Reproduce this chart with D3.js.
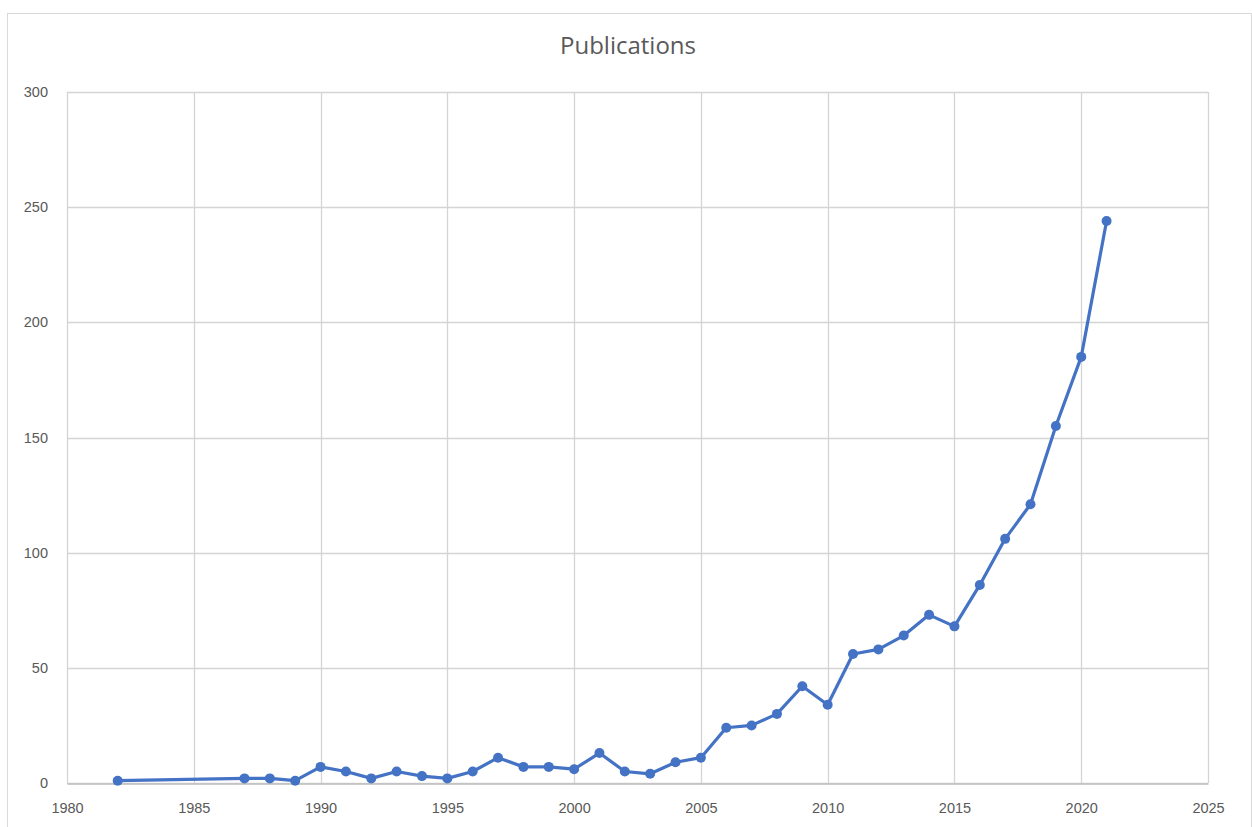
<!DOCTYPE html>
<html>
<head>
<meta charset="utf-8">
<script src="https://cdn.jsdelivr.net/npm/d3@7"></script>
<style>
  html, body { margin: 0; padding: 0; background: #fff; }
  svg { display: block; font-family: "Open Sans", "Liberation Sans", sans-serif; }
</style>
</head>
<body>
<svg id="chart"></svg>
<script>
const years = [1982, 1987, 1988, 1989, 1990, 1991, 1992, 1993, 1994, 1995, 1996, 1997, 1998, 1999,
  2000, 2001, 2002, 2003, 2004, 2005, 2006, 2007, 2008, 2009, 2010, 2011, 2012, 2013, 2014, 2015,
  2016, 2017, 2018, 2019, 2020, 2021];
const publications = [1, 2, 2, 1, 7, 5, 2, 5, 3, 2, 5, 11, 7, 7,
  6, 13, 5, 4, 9, 11, 24, 25, 30, 42, 34, 56, 58, 64, 73, 68,
  86, 106, 121, 155, 185, 244];
const xTicks = [1980, 1985, 1990, 1995, 2000, 2005, 2010, 2015, 2020, 2025];
const yTicks = [0, 50, 100, 150, 200, 250, 300];

const width = 1252, height = 827;
const margin = { top: 92, right: 44, bottom: 44, left: 67 };

const svg = d3.select('#chart')
  .attr('width', width)
  .attr('height', height);

// chart frame
svg.append('rect')
  .attr('x', 7.5).attr('y', 13.5)
  .attr('width', width - 8).attr('height', height)
  .attr('fill', '#fff')
  .attr('stroke', '#d9d9d9');

const data = years.map((y, i) => ({ year: y, value: publications[i] }));

const x = d3.scaleLinear()
  .domain([1980, 2025])
  .range([margin.left, width - margin.right]);

const y = d3.scaleLinear()
  .domain([0, 300])
  .range([height - margin.bottom, margin.top]);

// gridlines
svg.append('g')
  .attr('stroke', '#d4d4d4')
  .attr('stroke-width', 1.3)
  .selectAll('line.h')
  .data(yTicks)
  .join('line')
  .attr('x1', margin.left).attr('x2', width - margin.right)
  .attr('y1', d => Math.round(y(d)) + 0.5).attr('y2', d => Math.round(y(d)) + 0.5);

svg.append('g')
  .attr('stroke', '#d4d4d4')
  .attr('stroke-width', 1.3)
  .selectAll('line.v')
  .data(xTicks)
  .join('line')
  .attr('x1', d => Math.round(x(d)) + 0.5).attr('x2', d => Math.round(x(d)) + 0.5)
  .attr('y1', margin.top).attr('y2', height - margin.bottom);

// x axis
const xAxis = g => g
  .attr('transform', `translate(0,${Math.round(y(0)) + 0.5})`)
  .call(d3.axisBottom(x).tickValues(xTicks).tickFormat(d3.format('d')).tickSize(0).tickPadding(19))
  .call(g => g.select('.domain').attr('stroke', '#bfbfbf').attr('stroke-width', 1.3))
  .call(g => g.selectAll('text').attr('fill', '#595959').attr('font-size', 14.5));

svg.append('g').call(xAxis);

// y axis
const yAxis = g => g
  .attr('transform', `translate(${margin.left - 19},0)`)
  .call(d3.axisLeft(y).tickValues(yTicks).tickSize(0).tickPadding(0))
  .call(g => g.select('.domain').remove())
  .call(g => g.selectAll('text').attr('fill', '#595959').attr('font-size', 14.5));

svg.append('g').call(yAxis);

// title
svg.append('text')
  .attr('x', 628)
  .attr('y', 54)
  .attr('text-anchor', 'middle')
  .attr('fill', '#595959')
  .attr('font-size', 24)
  .text('Publications');

// series
svg.append('path')
  .datum(data)
  .attr('fill', 'none')
  .attr('stroke', '#4472c4')
  .attr('stroke-width', 3.2)
  .attr('stroke-linejoin', 'round')
  .attr('d', d3.line()
    .x(d => x(d.year))
    .y(d => y(d.value)));

svg.append('g')
  .attr('fill', '#4472c4')
  .selectAll('circle')
  .data(data)
  .join('circle')
  .attr('cx', d => x(d.year))
  .attr('cy', d => y(d.value))
  .attr('r', 5);
</script>
</body>
</html>
